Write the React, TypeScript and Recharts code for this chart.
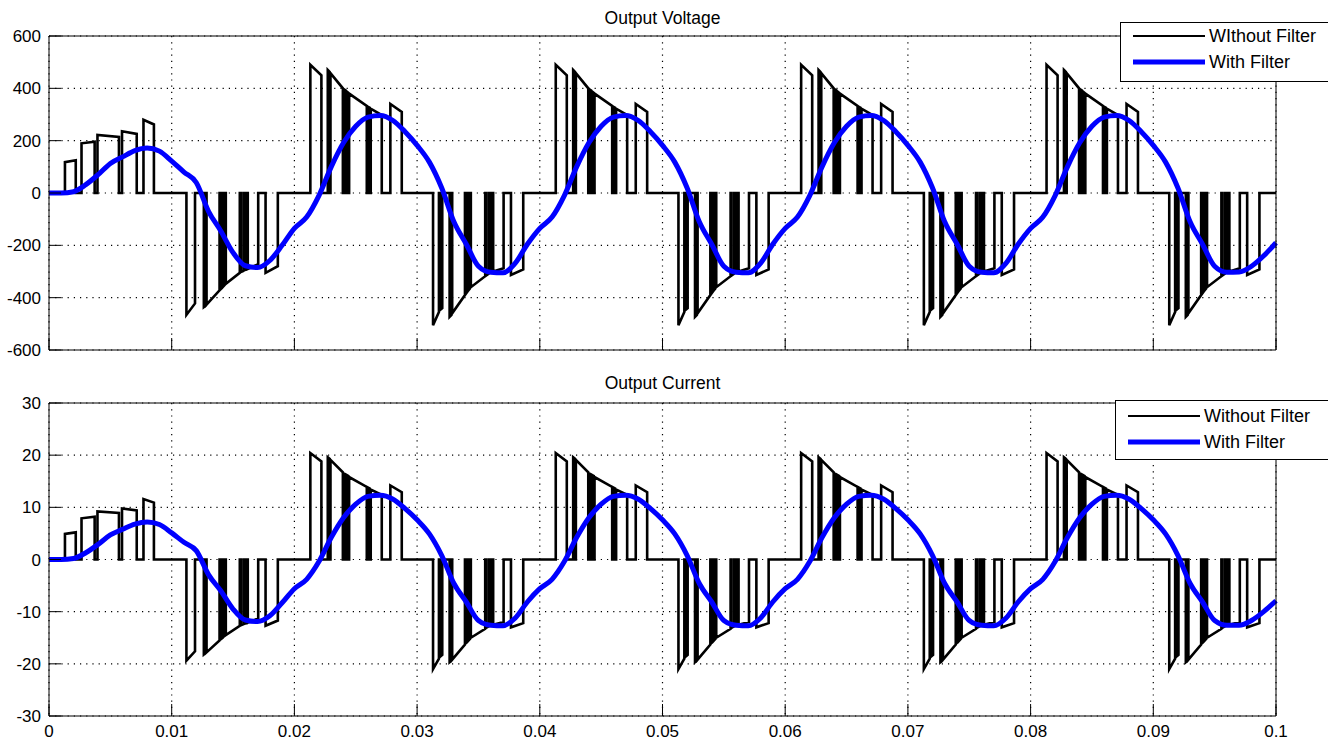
import React from "react"
import { LineChart, Line, XAxis, YAxis, CartesianGrid, Legend } from "recharts"

const timeTicks = [0, 10, 20, 30, 40, 50, 60, 70, 80, 90, 100]
const timeLabels = ["0", "0.01", "0.02", "0.03", "0.04", "0.05", "0.06", "0.07", "0.08", "0.09", "0.1"]
const voltageTicks = [-600, -400, -200, 0, 200, 400, 600]
const currentTicks = [-30, -20, -10, 0, 10, 20, 30]

// unfiltered PWM output: [start ms, end ms, value at start, value at end], 0 between pulses
const voltagePulses = [
  [1.30, 2.18, 118, 125], [2.65, 3.72, 190, 196], [3.95, 5.70, 222, 214], [5.95, 7.15, 236, 226], [7.70, 8.55, 280, 262],
  [11.20, 11.90, -466, -422], [12.62, 12.78, -436, -430], [12.84, 13.90, -427, -372], [13.98, 14.15, -368, -360],
  [14.23, 14.35, -356, -350], [14.41, 15.55, -347, -305], [15.63, 15.85, -302, -298], [15.93, 16.12, -295, -292],
  [16.20, 17.05, -290, -272], [17.65, 18.65, -305, -280],

  [21.30, 22.20, 490, 450], [22.72, 22.88, 470, 462], [22.94, 23.95, 458, 400], [24.02, 24.18, 397, 392],
  [24.26, 24.40, 388, 383], [24.46, 25.90, 380, 333], [25.98, 26.14, 330, 326], [26.22, 27.12, 322, 298],
  [27.82, 28.75, 340, 310],
  [31.30, 31.78, -505, -455], [31.85, 32.05, -448, -440], [32.65, 32.80, -473, -466], [32.86, 33.90, -460, -390],
  [33.98, 34.12, -385, -376], [34.20, 34.32, -371, -364], [34.38, 35.55, -360, -318], [35.63, 35.85, -315, -308],
  [35.93, 36.12, -305, -302], [36.20, 37.05, -300, -288], [37.65, 38.65, -313, -292],

  [41.30, 42.20, 490, 450], [42.72, 42.88, 470, 462], [42.94, 43.95, 458, 400], [44.02, 44.18, 397, 392],
  [44.26, 44.40, 388, 383], [44.46, 45.90, 380, 333], [45.98, 46.14, 330, 326], [46.22, 47.12, 322, 298],
  [47.82, 48.75, 340, 310],
  [51.30, 51.78, -505, -455], [51.85, 52.05, -448, -440], [52.65, 52.80, -473, -466], [52.86, 53.90, -460, -390],
  [53.98, 54.12, -385, -376], [54.20, 54.32, -371, -364], [54.38, 55.55, -360, -318], [55.63, 55.85, -315, -308],
  [55.93, 56.12, -305, -302], [56.20, 57.05, -300, -288], [57.65, 58.65, -313, -292],

  [61.30, 62.20, 490, 450], [62.72, 62.88, 470, 462], [62.94, 63.95, 458, 400], [64.02, 64.18, 397, 392],
  [64.26, 64.40, 388, 383], [64.46, 65.90, 380, 333], [65.98, 66.14, 330, 326], [66.22, 67.12, 322, 298],
  [67.82, 68.75, 340, 310],
  [71.30, 71.78, -505, -455], [71.85, 72.05, -448, -440], [72.65, 72.80, -473, -466], [72.86, 73.90, -460, -390],
  [73.98, 74.12, -385, -376], [74.20, 74.32, -371, -364], [74.38, 75.55, -360, -318], [75.63, 75.85, -315, -308],
  [75.93, 76.12, -305, -302], [76.20, 77.05, -300, -288], [77.65, 78.65, -313, -292],

  [81.30, 82.20, 490, 450], [82.72, 82.88, 470, 462], [82.94, 83.95, 458, 400], [84.02, 84.18, 397, 392],
  [84.26, 84.40, 388, 383], [84.46, 85.90, 380, 333], [85.98, 86.14, 330, 326], [86.22, 87.12, 322, 298],
  [87.82, 88.75, 340, 310],
  [91.30, 91.78, -505, -455], [91.85, 92.05, -448, -440], [92.65, 92.80, -473, -466], [92.86, 93.90, -460, -390],
  [93.98, 94.12, -385, -376], [94.20, 94.32, -371, -364], [94.38, 95.55, -360, -318], [95.63, 95.85, -315, -308],
  [95.93, 96.12, -305, -302], [96.20, 97.05, -300, -288], [97.65, 98.65, -313, -292],
]

const currentPulses = [
  [1.30, 2.18, 4.9, 5.2], [2.65, 3.72, 7.9, 8.2], [3.95, 5.70, 9.2, 8.9], [5.95, 7.15, 9.8, 9.4], [7.70, 8.55, 11.6, 10.9],
  [11.20, 11.90, -19.4, -17.6], [12.62, 12.78, -18.2, -17.9], [12.84, 13.90, -17.8, -15.5], [13.98, 14.15, -15.3, -15.0],
  [14.23, 14.35, -14.8, -14.6], [14.41, 15.55, -14.5, -12.7], [15.63, 15.85, -12.6, -12.4], [15.93, 16.12, -12.3, -12.2],
  [16.20, 17.05, -12.1, -11.3], [17.65, 18.65, -12.7, -11.7],

  [21.30, 22.20, 20.4, 18.8], [22.72, 22.88, 19.6, 19.3], [22.94, 23.95, 19.1, 16.7], [24.02, 24.18, 16.5, 16.3],
  [24.26, 24.40, 16.2, 16.0], [24.46, 25.90, 15.8, 13.9], [25.98, 26.14, 13.8, 13.6], [26.22, 27.12, 13.4, 12.4],
  [27.82, 28.75, 14.2, 12.9],
  [31.30, 31.78, -21.0, -19.0], [31.85, 32.05, -18.7, -18.3], [32.65, 32.80, -19.7, -19.4], [32.86, 33.90, -19.2, -16.3],
  [33.98, 34.12, -16.0, -15.7], [34.20, 34.32, -15.5, -15.2], [34.38, 35.55, -15.0, -13.3], [35.63, 35.85, -13.1, -12.8],
  [35.93, 36.12, -12.7, -12.6], [36.20, 37.05, -12.5, -12.0], [37.65, 38.65, -13.0, -12.2],

  [41.30, 42.20, 20.4, 18.8], [42.72, 42.88, 19.6, 19.3], [42.94, 43.95, 19.1, 16.7], [44.02, 44.18, 16.5, 16.3],
  [44.26, 44.40, 16.2, 16.0], [44.46, 45.90, 15.8, 13.9], [45.98, 46.14, 13.8, 13.6], [46.22, 47.12, 13.4, 12.4],
  [47.82, 48.75, 14.2, 12.9],
  [51.30, 51.78, -21.0, -19.0], [51.85, 52.05, -18.7, -18.3], [52.65, 52.80, -19.7, -19.4], [52.86, 53.90, -19.2, -16.3],
  [53.98, 54.12, -16.0, -15.7], [54.20, 54.32, -15.5, -15.2], [54.38, 55.55, -15.0, -13.3], [55.63, 55.85, -13.1, -12.8],
  [55.93, 56.12, -12.7, -12.6], [56.20, 57.05, -12.5, -12.0], [57.65, 58.65, -13.0, -12.2],

  [61.30, 62.20, 20.4, 18.8], [62.72, 62.88, 19.6, 19.3], [62.94, 63.95, 19.1, 16.7], [64.02, 64.18, 16.5, 16.3],
  [64.26, 64.40, 16.2, 16.0], [64.46, 65.90, 15.8, 13.9], [65.98, 66.14, 13.8, 13.6], [66.22, 67.12, 13.4, 12.4],
  [67.82, 68.75, 14.2, 12.9],
  [71.30, 71.78, -21.0, -19.0], [71.85, 72.05, -18.7, -18.3], [72.65, 72.80, -19.7, -19.4], [72.86, 73.90, -19.2, -16.3],
  [73.98, 74.12, -16.0, -15.7], [74.20, 74.32, -15.5, -15.2], [74.38, 75.55, -15.0, -13.3], [75.63, 75.85, -13.1, -12.8],
  [75.93, 76.12, -12.7, -12.6], [76.20, 77.05, -12.5, -12.0], [77.65, 78.65, -13.0, -12.2],

  [81.30, 82.20, 20.4, 18.8], [82.72, 82.88, 19.6, 19.3], [82.94, 83.95, 19.1, 16.7], [84.02, 84.18, 16.5, 16.3],
  [84.26, 84.40, 16.2, 16.0], [84.46, 85.90, 15.8, 13.9], [85.98, 86.14, 13.8, 13.6], [86.22, 87.12, 13.4, 12.4],
  [87.82, 88.75, 14.2, 12.9],
  [91.30, 91.78, -21.0, -19.0], [91.85, 92.05, -18.7, -18.3], [92.65, 92.80, -19.7, -19.4], [92.86, 93.90, -19.2, -16.3],
  [93.98, 94.12, -16.0, -15.7], [94.20, 94.32, -15.5, -15.2], [94.38, 95.55, -15.0, -13.3], [95.63, 95.85, -13.1, -12.8],
  [95.93, 96.12, -12.7, -12.6], [96.20, 97.05, -12.5, -12.0], [97.65, 98.65, -13.0, -12.2],
]

// filtered output, one reading per ms: [ms, value]
const voltageFiltered = [
  [0, 0], [1, 0], [2, 5], [3, 32], [4, 70], [5, 113], [6, 138], [7, 162], [8, 172], [9, 160], [10, 122],
  [11, 80], [12, 40], [13, -70], [14, -145], [15, -228], [16, -278], [17, -285], [18, -258], [19, -200], [20, -135],
  [21, -92], [22, -10], [23, 100], [24, 192], [25, 255], [26, 290], [27, 296], [28, 278], [29, 235], [30, 182],
  [31, 118], [32, 20], [33, -110], [34, -195], [35, -280], [36, -303], [37, -305], [38, -268], [39, -195], [40, -135],
  [41, -92], [42, -10], [43, 100], [44, 192], [45, 255], [46, 290], [47, 296], [48, 278], [49, 235], [50, 182],
  [51, 118], [52, 20], [53, -110], [54, -195], [55, -280], [56, -303], [57, -305], [58, -268], [59, -195], [60, -135],
  [61, -92], [62, -10], [63, 100], [64, 192], [65, 255], [66, 290], [67, 296], [68, 278], [69, 235], [70, 182],
  [71, 118], [72, 20], [73, -110], [74, -195], [75, -280], [76, -303], [77, -305], [78, -268], [79, -195], [80, -135],
  [81, -92], [82, -10], [83, 100], [84, 192], [85, 255], [86, 290], [87, 296], [88, 278], [89, 235], [90, 182],
  [91, 118], [92, 20], [93, -110], [94, -195], [95, -280], [96, -303], [97, -302], [98, -280], [99, -240], [100, -190],
]

const currentFiltered = [
  [0, 0], [1, 0], [2, 0.2], [3, 1.3], [4, 2.9], [5, 4.7], [6, 5.8], [7, 6.8], [8, 7.2], [9, 6.7], [10, 5.1],
  [11, 3.3], [12, 1.7], [13, -2.9], [14, -6.0], [15, -9.5], [16, -11.6], [17, -11.9], [18, -10.8], [19, -8.3], [20, -5.6],
  [21, -3.8], [22, -0.4], [23, 4.2], [24, 8.0], [25, 10.6], [26, 12.1], [27, 12.3], [28, 11.6], [29, 9.8], [30, 7.6],
  [31, 4.9], [32, 0.8], [33, -4.6], [34, -8.1], [35, -11.7], [36, -12.6], [37, -12.7], [38, -11.2], [39, -8.1], [40, -5.6],
  [41, -3.8], [42, -0.4], [43, 4.2], [44, 8.0], [45, 10.6], [46, 12.1], [47, 12.3], [48, 11.6], [49, 9.8], [50, 7.6],
  [51, 4.9], [52, 0.8], [53, -4.6], [54, -8.1], [55, -11.7], [56, -12.6], [57, -12.7], [58, -11.2], [59, -8.1], [60, -5.6],
  [61, -3.8], [62, -0.4], [63, 4.2], [64, 8.0], [65, 10.6], [66, 12.1], [67, 12.3], [68, 11.6], [69, 9.8], [70, 7.6],
  [71, 4.9], [72, 0.8], [73, -4.6], [74, -8.1], [75, -11.7], [76, -12.6], [77, -12.7], [78, -11.2], [79, -8.1], [80, -5.6],
  [81, -3.8], [82, -0.4], [83, 4.2], [84, 8.0], [85, 10.6], [86, 12.1], [87, 12.3], [88, 11.6], [89, 9.8], [90, 7.6],
  [91, 4.9], [92, 0.8], [93, -4.6], [94, -8.1], [95, -11.7], [96, -12.6], [97, -12.6], [98, -11.7], [99, -10.0], [100, -7.9],
]

const FONT = '"Liberation Sans", Arial, sans-serif'
const FILTERED = "With Filter"

// step path for the line: 0 -> pulse top -> back to 0
function pulseTrain(pulses: number[][]) {
  const pts = [{ t: 0, y: 0 }]
  pulses.forEach(([a, b, ya, yb]) => {
    pts.push({ t: a, y: 0 }, { t: a, y: ya }, { t: b, y: yb }, { t: b, y: 0 })
  })
  pts.push({ t: 100, y: 0 })
  return pts
}

const toRows = (pairs: number[][]) => pairs.map(([t, y]) => ({ t, y }))

const NoTick = () => <g />

function legendBox(lineX: number, firstRow: number) {
  return (props: any) => {
    const entries = [...(props.payload || [])].sort(
      (a: any, b: any) => (a.value === FILTERED ? 1 : 0) - (b.value === FILTERED ? 1 : 0)
    )
    return (
      <div
        style={{
          width: 220,
          height: 60,
          boxSizing: "border-box",
          border: "1px solid #000",
          background: "#fff",
          fontFamily: FONT,
          fontSize: 18,
          color: "#000",
          paddingTop: firstRow,
        }}
      >
        {entries.map((entry: any, i: number) => (
          <div key={i} style={{ display: "flex", alignItems: "center", height: 26, paddingLeft: lineX }}>
            <svg width={72} height={8} style={{ marginRight: 4 }}>
              <line
                x1={0}
                x2={72}
                y1={4}
                y2={4}
                stroke={entry.color}
                strokeWidth={entry.value === FILTERED ? 5 : 2}
              />
            </svg>
            <span style={{ lineHeight: "26px" }}>{entry.value}</span>
          </div>
        ))}
      </div>
    )
  }
}

type PanelProps = {
  title: string
  titleTop: number
  top: number
  height: number
  marginTop: number
  marginBottom: number
  yTicks: number[]
  rawName: string
  raw: { t: number; y: number }[]
  filtered: { t: number; y: number }[]
  timeLabels: boolean
  legendLeft: number
  legendTop: number
  legendRow: number
  legendPad: number
}

function Panel(p: PanelProps) {
  const tickStyle = { fill: "#000", fontSize: 17, fontFamily: FONT }
  const yDomain = [p.yTicks[0], p.yTicks[p.yTicks.length - 1]]
  return (
    <div style={{ position: "absolute", left: 0, top: p.top, width: 1328, height: p.height }}>
      <div
        style={{
          position: "absolute",
          left: 49,
          width: 1227,
          top: p.titleTop,
          textAlign: "center",
          fontFamily: FONT,
          fontSize: 17.5,
          color: "#000",
        }}
      >
        {p.title}
      </div>
      <LineChart
        width={1328}
        height={p.height}
        margin={{ top: p.marginTop - 1, right: 51, bottom: p.marginBottom - 1, left: 48 }}
      >
        <CartesianGrid stroke="#000" strokeWidth={1.2} strokeDasharray="1.2 5" />
        <XAxis
          dataKey="t"
          type="number"
          domain={[0, 100]}
          ticks={timeTicks}
          interval={0}
          height={1}
          stroke="#000"
          tickSize={-12}
          tickMargin={21}
          tick={p.timeLabels ? tickStyle : <NoTick />}
          tickFormatter={(v: number) => timeLabels[timeTicks.indexOf(v)]}
        />
        <XAxis
          xAxisId="top"
          orientation="top"
          dataKey="t"
          type="number"
          domain={[0, 100]}
          ticks={timeTicks}
          interval={0}
          height={1}
          stroke="#000"
          tickSize={-12}
          tick={<NoTick />}
        />
        <YAxis
          type="number"
          domain={yDomain}
          ticks={p.yTicks}
          interval={0}
          width={1}
          stroke="#000"
          tickSize={-12}
          tickMargin={20}
          tick={tickStyle}
        />
        <YAxis
          yAxisId="right"
          orientation="right"
          type="number"
          domain={yDomain}
          ticks={p.yTicks}
          interval={0}
          width={1}
          stroke="#000"
          tickSize={-12}
          tick={<NoTick />}
        />
        <Legend
          layout="vertical"
          align="center"
          verticalAlign="middle"
          content={legendBox(p.legendPad, p.legendRow)}
          wrapperStyle={{ left: p.legendLeft, top: p.legendTop, width: 220 }}
        />
        <Line
          data={p.raw}
          dataKey="y"
          name={p.rawName}
          type="linear"
          stroke="#000"
          strokeWidth={2.6}
          dot={false}
          isAnimationActive={false}
        />
        <Line
          data={p.filtered}
          dataKey="y"
          name={FILTERED}
          type="monotone"
          stroke="#0000ff"
          strokeWidth={5}
          dot={false}
          isAnimationActive={false}
        />
      </LineChart>
    </div>
  )
}

export default function App() {
  return (
    <div
      style={{
        position: "absolute",
        left: 0,
        top: 0,
        width: 1328,
        height: 744,
        overflow: "hidden",
        background: "#fff",
      }}
    >
      <Panel
        title="Output Voltage"
        titleTop={8}
        top={0}
        height={360}
        marginTop={36}
        marginBottom={10}
        yTicks={voltageTicks}
        rawName="WIthout Filter"
        raw={pulseTrain(voltagePulses)}
        filtered={toRows(voltageFiltered)}
        timeLabels={false}
        legendLeft={1120}
        legendTop={22}
        legendRow={0}
        legendPad={12}
      />
      <Panel
        title="Output Current"
        titleTop={3}
        top={370}
        height={374}
        marginTop={33}
        marginBottom={28}
        yTicks={currentTicks}
        rawName="Without Filter"
        raw={pulseTrain(currentPulses)}
        filtered={toRows(currentFiltered)}
        timeLabels={true}
        legendLeft={1115}
        legendTop={30}
        legendRow={2}
        legendPad={12}
      />
    </div>
  )
}
